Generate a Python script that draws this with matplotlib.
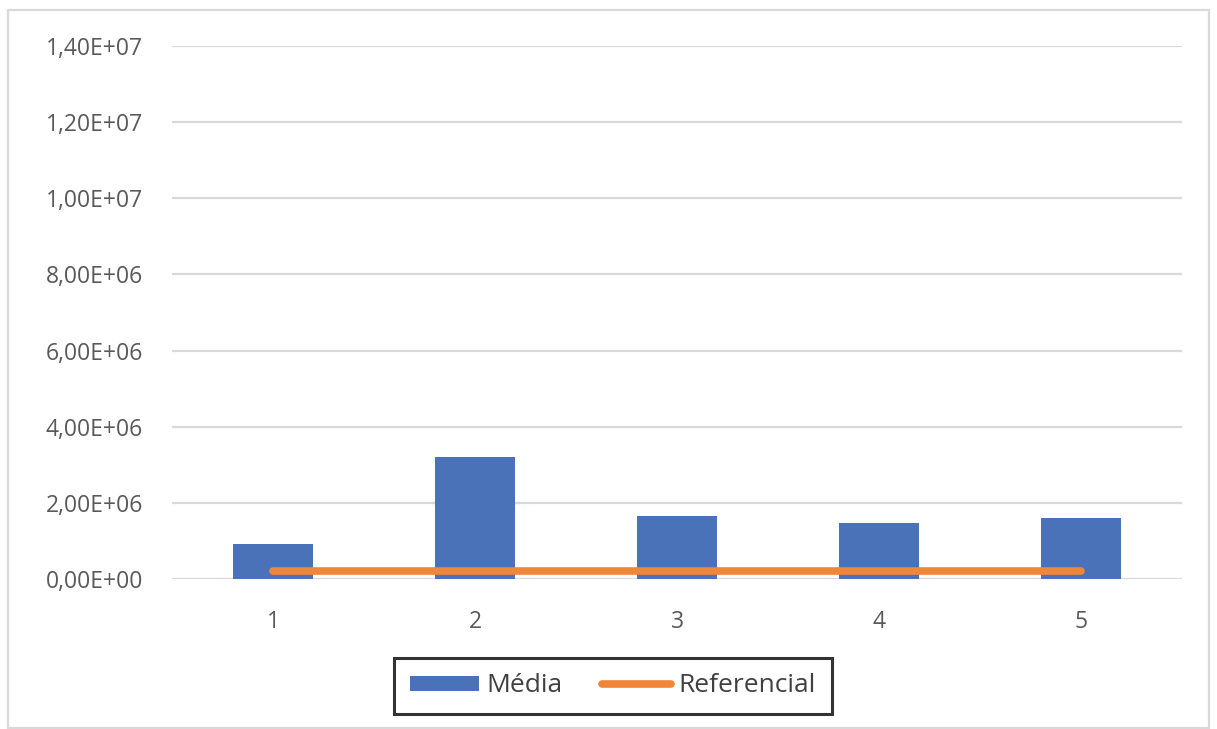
import matplotlib
matplotlib.use("Agg")
import matplotlib.pyplot as plt
from matplotlib import ticker
from matplotlib.patches import Rectangle

categorias = ["1", "2", "3", "4", "5"]
media = [9.2e5, 3.2e6, 1.66e6, 1.46e6, 1.61e6]
referencial = [2.2e5, 2.2e5, 2.2e5, 2.2e5, 2.2e5]

plt.rcParams['font.family'] = ['Open Sans', 'DejaVu Sans']

fig = plt.figure(figsize=(12.17, 7.29), dpi=100)
ax = fig.add_axes([172 / 1217, 1 - 579 / 729, (1182 - 172) / 1217, (579 - 46) / 729])

x = list(range(len(categorias)))
barras = ax.bar(x, media, width=0.4, color='#4a72b8', label='Média', zorder=2)
linha, = ax.plot(x, referencial, color='#f28638', linewidth=5.5, solid_capstyle='round', label='Referencial', zorder=3)

ax.set_xlim(-0.5, len(categorias) - 0.5)
ax.set_ylim(0, 1.4e7)
ax.set_yticks([i * 2e6 for i in range(8)])
ax.yaxis.set_major_formatter(ticker.FuncFormatter(lambda v, p: f"{v:.2E}".replace('.', ',')))
ax.set_xticks(x)
ax.set_xticklabels(categorias)

ax.grid(axis='y', color='#d9d9d9', linewidth=1.6, zorder=0)
for s in ax.spines.values():
    s.set_visible(False)
ax.tick_params(length=0, colors='#595959', labelsize=16.5)
ax.tick_params(axis='y', pad=21)
ax.tick_params(axis='x', pad=22)

leg = fig.legend([barras, linha], ['Média', 'Referencial'], loc='center',
                 bbox_to_anchor=(613 / 1217, 1 - 686 / 729), ncol=2,
                 frameon=True, fancybox=False, edgecolor='black', fontsize=19,
                 handlelength=2.6, handleheight=0.5, handletextpad=0.3,
                 columnspacing=1.5, borderpad=0.6, borderaxespad=0)
leg.get_frame().set_linewidth(2.2)
for t in leg.get_texts():
    t.set_color('#404040')

# borda externa do gráfico
fig.patches.append(Rectangle((8 / 1217, 0.002), 1 - 16 / 1217, 1 - 10 / 729 - 0.002,
                             transform=fig.transFigure, fill=False, edgecolor='#d9d9d9', linewidth=1.6))

fig.savefig('out.png', dpi=100)
